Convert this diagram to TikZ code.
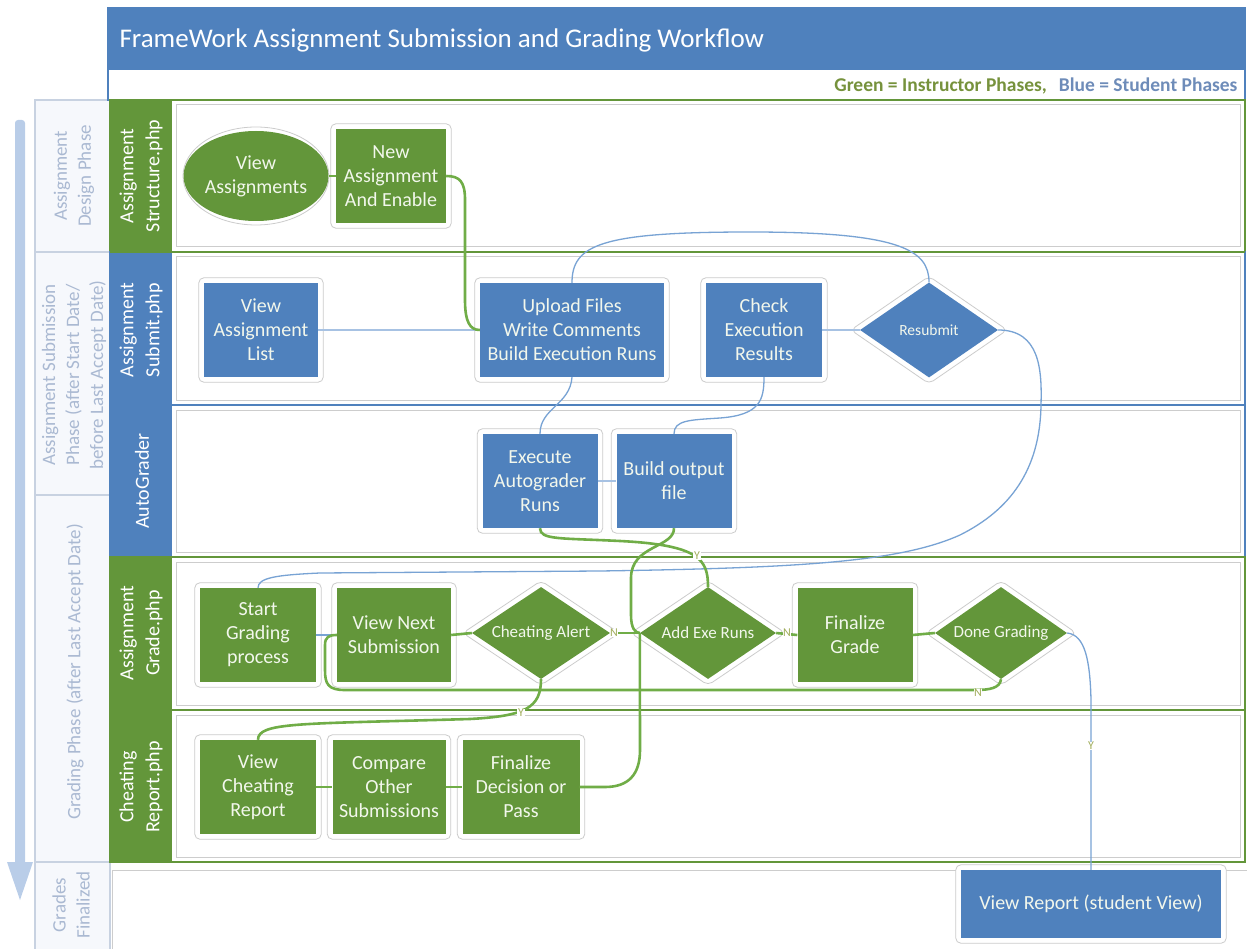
\documentclass[tikz,border=0pt]{standalone}
\usepackage{fontspec}
\setmainfont{Carlito}
\usetikzlibrary{calc,shapes.geometric}
\definecolor{gfill}{RGB}{99,150,58}
\definecolor{bfill}{RGB}{79,129,189}
\definecolor{gline}{RGB}{112,173,71}
\definecolor{bline}{RGB}{120,163,212}
\definecolor{bthick}{RGB}{167,194,227}
\definecolor{phasetxt}{RGB}{170,185,210}
\definecolor{phaseborder}{RGB}{200,210,225}
\definecolor{phasefill}{RGB}{246,248,252}
\definecolor{arrowc}{RGB}{185,205,232}
\definecolor{laneinner}{RGB}{205,205,205}
\definecolor{legG}{RGB}{118,146,60}
\definecolor{legB}{RGB}{110,140,185}
\definecolor{ynlab}{RGB}{160,172,90}
\definecolor{boxtxt}{RGB}{242,247,236}
\pgfdeclarelayer{bg}
\pgfdeclarelayer{frames}
\pgfsetlayers{bg,frames,main}
\newcommand{\mybframe}[1]{\draw[nodeframe] ($(#1.south west)+(-5,5)$) rectangle ($(#1.north east)+(5,-5)$);}
\newcommand{\mydframe}[1]{\draw[nodeframe] ($(#1.north)+(0,-6)$) -- ($(#1.east)+(9,0)$) -- ($(#1.south)+(0,6)$) -- ($(#1.west)+(-9,0)$) -- cycle;}
\tikzset{
  boxtext/.style={font=\fontsize{20}{24}\selectfont, text=boxtxt, align=center, inner sep=0pt},
  gbox/.style={boxtext, rectangle, fill=gfill, minimum width=115pt, minimum height=94pt},
  bbox/.style={boxtext, rectangle, fill=bfill, minimum width=115pt, minimum height=94pt},
  gdia/.style={diamond, aspect=1.5, fill=gfill, text=boxtxt, inner sep=0pt, minimum width=136pt, minimum height=92pt, font=\fontsize{17}{20}\selectfont},
  bdia/.style={diamond, aspect=1.5, fill=bfill, text=boxtxt, inner sep=0pt, minimum width=138pt, minimum height=95pt, font=\fontsize{15.5}{18}\selectfont},
  nodeframe/.style={draw=black!20, fill=white, line width=0.8pt, rounded corners=5pt},
  gconn/.style={draw=gline, line width=2.6pt},
  bconn/.style={draw=bline, line width=1.3pt},
  bconnthick/.style={draw=bthick, line width=2.8pt},
  yn/.style={font=\fontsize{12}{12}\selectfont, text=ynlab, fill=white, inner sep=0.6pt},
  lanehead/.style={rotate=90, font=\fontsize{20}{26}\selectfont, text=white, align=center},
  phasetext/.style={rotate=90, font=\fontsize{19}{24}\selectfont, text=phasetxt, align=center},
}
\begin{document}
\begin{tikzpicture}[x=1pt,y=-1pt]
\useasboundingbox (0,0) rectangle (1247,949);
\begin{pgfonlayer}{bg}
  % phase column
  \fill[phasefill] (35,100) rectangle (110,949);
  \foreach \t/\b in {100/252,252/495,495/862,862/951}{
    \draw[phaseborder, line width=1.2pt] (35,\t) rectangle (110,\b);
  }
  % big arrow
  \fill[arrowc, rounded corners=3pt] (15,120) rectangle (25,866);
  \fill[arrowc] (7,862) -- (33,862) -- (20,900) -- cycle;
  % title
  \fill[bfill] (108,8) rectangle (1245,70);
  \fill[white] (108,70) rectangle (1245,100);
  \draw[bfill, line width=1.2pt] (108,8) rectangle (1245,100);
  % lanes
  \foreach \t/\b/\c in {100/252/gfill, 252/405/bfill, 405/557/bfill, 557/710/gfill, 710/862/gfill}{
    \draw[\c, line width=1.5pt, fill=white] (110,\t) rectangle (1245,\b);
    \draw[laneinner, line width=1pt] (176,\t+5) rectangle (1240,\b-5);
    \fill[\c] (110,\t) rectangle (172,\b);
  }
  \draw[gfill, line width=1.8pt] (110,252) -- (1245,252);
  \draw[bfill, line width=1.8pt] (110,405) -- (1245,405);
  \draw[gfill, line width=1.8pt] (110,557) -- (1245,557);
  \draw[gfill, line width=1.8pt] (110,710) -- (1245,710);
  \draw[gfill, line width=1.8pt] (110,862) -- (1245,862);
  % grades finalized lane
  \fill[white] (111,863) rectangle (1247,949);
  \draw[laneinner, line width=1pt] (112,951) -- (112,870) -- (1249,870);
\end{pgfonlayer}

% headings
\node[anchor=west, text=white, font=\fontsize{27}{30}\selectfont] (title) at (116,40) {FrameWork Assignment Submission and Grading Workflow};
\node[anchor=east, font=\bfseries\fontsize{19.5}{22}\selectfont] (legend) at (1241,86) {\textcolor{legG}{Green = Instructor Phases,}\hspace{12pt}\textcolor{legB}{Blue = Student Phases}};

\node[phasetext] (p1) at (74,176) {Assignment\\Design Phase};
\node[phasetext] (p2) at (74,375) {Assignment Submission\\Phase (after Start Date/\\before Last Accept Date)};
\node[phasetext] (p3) at (75,672) {Grading Phase (after Last Accept Date)};
\node[phasetext] (p4) at (71,905) {Grades\\Finalized};

\node[lanehead] (h1) at (141,176) {Assignment\\Structure.php};
\node[lanehead] (h2) at (141,330) {Assignment\\Submit.php};
\node[lanehead] (h3) at (142,481) {AutoGrader};
\node[lanehead] (h4) at (141,633) {Assignment\\Grade.php};
\node[lanehead] (h5) at (141,787) {Cheating\\Report.php};

% nodes
\node[ellipse, fill=gfill, boxtext, minimum width=138pt, minimum height=90pt] (viewA) at (256,176) {View\\Assignments};
\node[gbox, minimum width=110pt] (newA) at (391,176) {New\\Assignment\\And Enable};

\node[bbox, minimum width=114pt] (viewAL) at (261,330) {View\\Assignment\\List};
\node[bbox, minimum width=184pt] (upload) at (572,330) {Upload Files\\Write Comments\\Build Execution Runs};
\node[bbox, minimum width=116pt] (check) at (764,330) {Check\\Execution\\Results};
\node[bdia] (resub) at (929,330) {Resubmit};

\node[bbox] (execute) at (540,481) {Execute\\Autograder\\Runs};
\node[bbox] (buildout) at (674,481) {Build output\\file};

\node[gbox, minimum width=116pt] (startG) at (258,635) {Start\\Grading\\process};
\node[gbox, minimum width=114pt] (viewNext) at (394,635) {View Next\\Submission};
\node[gdia, minimum width=138pt] (cheat) at (541,633) {Cheating Alert};
\node[gdia] (addexe) at (708,633) {Add Exe Runs};
\node[gbox] (finG) at (855,635) {Finalize\\Grade};
\node[gdia, minimum width=132pt] (done) at (1001,633) {Done Grading};

\node[gbox, minimum width=116pt] (viewCR) at (258,787) {View\\Cheating\\Report};
\node[gbox, minimum width=113pt] (compare) at (389,787) {Compare\\Other\\Submissions};
\node[gbox, minimum width=117pt] (finD) at (521,787) {Finalize\\Decision or\\Pass};

\node[bbox, minimum width=260pt, minimum height=68pt] (report) at (1091,904) {View Report (student View)};

\begin{pgfonlayer}{frames}
  \foreach \n in {newA,viewAL,upload,check,execute,buildout,startG,viewNext,finG,viewCR,compare,finD,report}{\mybframe{\n}}
  \foreach \n in {resub,cheat,addexe,done}{\mydframe{\n}}
  \draw[nodeframe] (viewA.center) ellipse [x radius=73pt, y radius=49pt];
\end{pgfonlayer}

% blue connectors
\draw[bconnthick] (viewAL.east) -- (upload.west);
\draw[bconnthick] (execute.east) -- (buildout.west);
\draw[bconnthick] (check.east) -- (resub.west);
\draw[bconn] (upload.north) .. controls (572,245) and (600,232) .. (750,232) .. controls (900,232) and (929,250) .. (resub.north);
\draw[bconn] (upload.south) .. controls (570,405) and (540,408) .. (execute.north);
\draw[bconn] (buildout.north) .. controls (674,420) and (690,420) .. (720,418) .. controls (760,415) and (764,400) .. (check.south);
\draw[bconn] (resub.east) .. controls (1040,330) and (1042,370) .. (1041,405) .. controls (1040,470) and (1010,510) .. (960,535) .. controls (900,562) and (800,568) .. (600,571) -- (320,573) .. controls (275,575) and (258,578) .. (startG.north);
\draw[bconn] (startG.east) -- (viewNext.west);
\draw[bconn] (done.east) .. controls (1085,635) and (1090,660) .. (1091,700) -- (report.north);

% green connectors
\draw[gconn] (viewA.east) -- (newA.west);
\draw[gconn] (newA.east) .. controls (460,176) and (465,182) .. (465,200) -- (465,300) .. controls (465,322) and (470,330) .. (upload.west);
\draw[gconn] (viewNext.east) -- (cheat.west);
\draw[gconn] (cheat.east) -- (addexe.west);
\draw[gconn] (addexe.east) -- (finG.west);
\draw[gconn] (finG.east) -- (done.west);
\draw[gconn] (viewCR.east) -- (compare.west);
\draw[gconn] (compare.east) -- (finD.west);
\draw[gconn] (execute.south) .. controls (540,540) and (560,538) .. (620,541) .. controls (700,545) and (708,560) .. (addexe.north);
\draw[gconn] (buildout.south) .. controls (674,548) and (631,545) .. (631,578) -- (631,615) .. controls (631,628) and (635,633) .. (addexe.west);
\draw[gconn] (finD.east) -- (605,787) .. controls (628,787) and (640,775) .. (640,750) -- (addexe.west);
\draw[gconn] (done.south) .. controls (1000,688) and (990,690) .. (975,690) -- (345,690) .. controls (328,690) and (325,684) .. (325,670) -- (325,645) .. controls (325,637) and (329,635) .. (viewNext.west);
\draw[gconn] (cheat.south) .. controls (541,708) and (525,716) .. (470,719) .. controls (300,724) and (258,722) .. (viewCR.north);

% labels
\node[yn] (yAdd) at (697,556) {Y};
\node[yn] (nCheat) at (614,633) {N};
\node[yn] (nAdd) at (787,633) {N};
\node[yn] (nDone) at (978,693) {N};
\node[yn] (yCheat) at (521,713) {Y};
\node[yn] (yDone) at (1091,746) {Y};
\end{tikzpicture}
\end{document}
